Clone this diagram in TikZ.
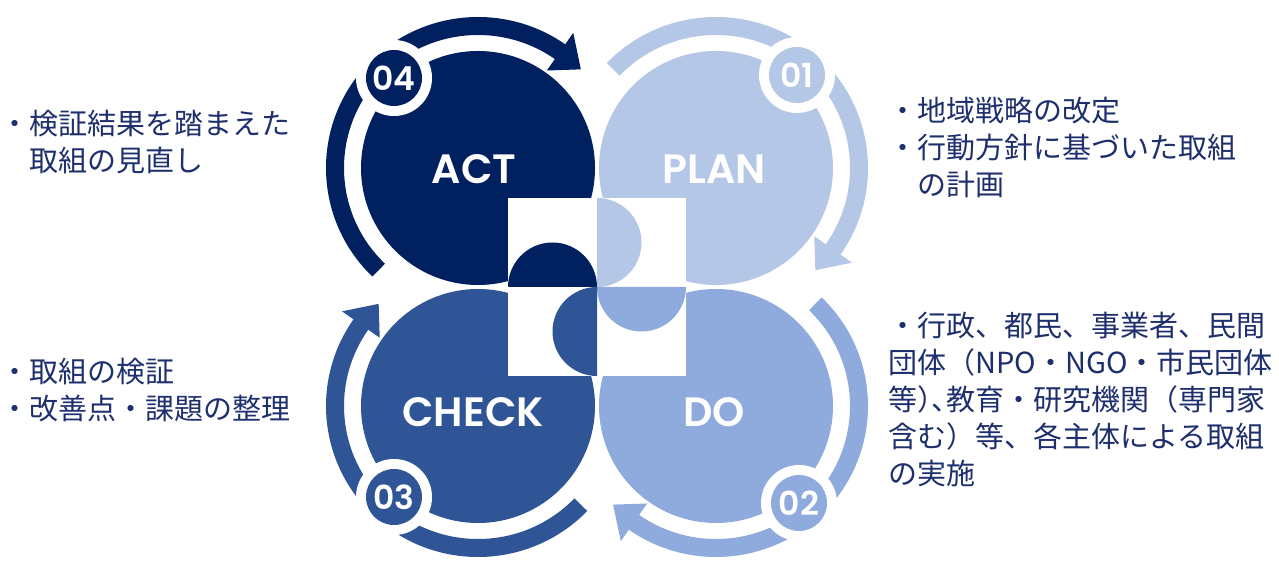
\documentclass[tikz,border=0pt]{standalone}
\usepackage{fontspec}
\newfontfamily\jp{Noto Sans CJK JP}
\newfontfamily\jph{Noto Sans CJK JP}[RawFeature=+halt]
\newfontfamily\pop{Poppins}[BoldFont={Poppins SemiBold}]
\usetikzlibrary{calc}
\definecolor{cact}{HTML}{002060}
\definecolor{cplan}{HTML}{B4C7E7}
\definecolor{cdo}{HTML}{8FAADC}
\definecolor{ccheck}{HTML}{2F5597}
\definecolor{ctext}{HTML}{1E2F6E}
\tikzset{
  jptext/.style={font=\jp\fontsize{29}{37}\selectfont, text=ctext, align=left, anchor=west, inner sep=0pt},
  phase/.style={font=\pop\bfseries\fontsize{41}{41}\selectfont, text=white, inner sep=0pt},
  badgenum/.style={font=\pop\bfseries\fontsize{33}{33}\selectfont, text=white, inner sep=0pt},
}
\begin{document}
\begin{tikzpicture}[x=1pt,y=1pt]
\useasboundingbox (0,0) rectangle (1279,561);
\fill[white] (0,0) rectangle (1279,561);
% circles
\foreach \q/\cx/\cy/\col in {act/478/393/cact,plan/716/393/cplan,check/478/155/ccheck,do/716/155/cdo}{
  \coordinate (c\q) at (\cx,\cy);
  \fill[\col] (c\q) circle[radius=117];
}
% ring arrows
\foreach \q/\col/\ta in {act/cact/226,plan/cplan/136,do/cdo/46,check/ccheck/-44}{
  \pgfmathsetmacro\angbase{\ta-171}
  \pgfmathsetmacro\angtip{\ta-182}
  \pgfmathsetmacro\angend{\ta-171.5}
  \draw[line width=18pt, \col] ($(c\q)+(\ta:143 and 142)$) arc[start angle=\ta, end angle=\angend, x radius=143, y radius=142];
  \fill[\col] ($(c\q)+(\angbase:166 and 165)$) -- ($(c\q)+(\angtip:143 and 142)$) -- ($(c\q)+(\angbase:120 and 119)$) -- cycle;
}
% badges
\foreach \q/\col/\num/\bx/\by in {act/cact/04/-84/90,plan/cplan/01/81/93,do/cdo/02/83/-97,check/ccheck/03/-84/-91}{
  \fill[white] ($(c\q)+(\bx,\by)$) circle[radius=38];
  \fill[\col] ($(c\q)+(\bx,\by)$) circle[radius=28];
  \node[badgenum] (b\q) at ($(c\q)+(\bx,\by)$) {\num};
}
% centre puzzle
\fill[white] (508,185) rectangle (686,363);
\fill[cact] (597,274) arc[start angle=0, end angle=180, radius=44.5] -- cycle;
\fill[cplan] (597,363) arc[start angle=90, end angle=-90, radius=44.5] -- cycle;
\fill[cdo] (686,274) arc[start angle=0, end angle=-180, radius=44.5] -- cycle;
\fill[ccheck] (597,274) arc[start angle=90, end angle=270, radius=44.5] -- cycle;
% phase labels
\node[phase] (lact) at ($(cact)+(-4,-1)$) {ACT};
\node[phase] (lplan) at ($(cplan)+(-2,-1)$) {PLAN};
\node[phase] (lcheck) at ($(ccheck)+(-5,-6)$) {CHECK};
\node[phase] (ldo) at ($(cdo)+(-2,-6)$) {DO};
% texts
\node[jptext] (t1) at (0,419) {・検証結果を踏まえた\\\hspace*{29pt}取組の見直し};
\node[jptext] (t2) at (0,171) {・取組の検証\\・改善点・課題の整理};
\node[jptext] (t3) at (888,414) {・地域戦略の改定\\・行動方針に基づいた取組\\\hspace*{29pt}の計画};
\node[jptext] (t4) at (888,162) {・行政、都民、事業者、民間\\団体（NPO・NGO・市民団体\\等{\jph ）、}教育・研究機関（専門家\\含む）等、各主体による取組\\の実施};
\end{tikzpicture}
\end{document}
